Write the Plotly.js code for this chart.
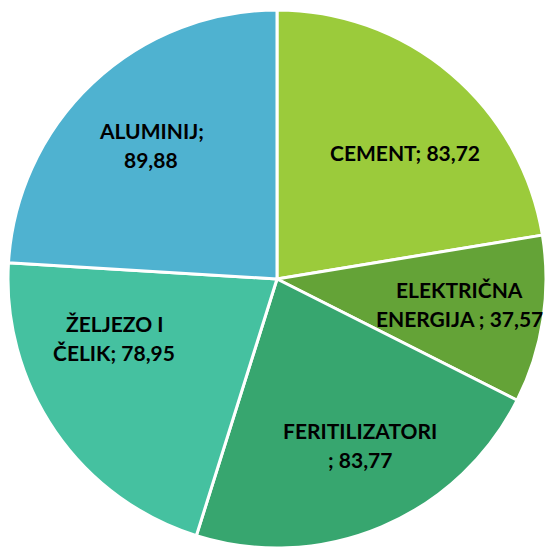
<!DOCTYPE html>
<html>
<head>
<meta charset="utf-8">
<script src="https://cdn.plot.ly/plotly-3.0.1.min.js"></script>
<style>
  html, body { margin: 0; padding: 0; background: #ffffff; }
  #chart { width: 548px; height: 548px; }
</style>
</head>
<body>
<div id="chart"></div>
<script>

/* ==========================================
   DATA
========================================== */

const sectors = ["CEMENT", "ELEKTRIČNA ENERGIJA", "FERITILIZATORI", "ŽELJEZO I ČELIK", "ALUMINIJ"];

const values = [83.72, 37.57, 83.77, 78.95, 89.88];

// label text as it is wrapped in the picture, one list per slice
const labelLines = [
    ["CEMENT; 83,72"],
    ["ELEKTRIČNA", "ENERGIJA ; 37,57"],
    ["FERITILIZATORI", "; 83,77"],
    ["ŽELJEZO I", "ČELIK; 78,95"],
    ["ALUMINIJ;", "89,88"]
];

const sliceColors = ["#9bcb3b", "#64a337", "#37a66f", "#45c1a0", "#4fb2d0"];


/* ==========================================
   LABEL PLACEMENT (pixel centre of first line)
========================================== */

const labelAnchor = [
    [405, 153],
    [459, 289],
    [360, 430],
    [114, 323],
    [151, 130]
];

const LINE_GAP = 29;

const SIZE = 548;


function buildLabels(){

    let notes = [];

    labelLines.forEach((lines, i)=>{

        lines.forEach((line, k)=>{

            const px = labelAnchor[i][0];

            const py = labelAnchor[i][1] + k * LINE_GAP;

            notes.push({

                text:line,

                xref:"paper",

                yref:"paper",

                x:px / SIZE,

                y:1 - py / SIZE,

                xanchor:"center",

                yanchor:"middle",

                showarrow:false,

                font:{

                    family:"Lato, 'Open Sans', sans-serif",

                    size:21,

                    color:"#000000",

                    weight:"bold"

                }

            });

        });

    });

    return notes;

}


/* ==========================================
   DRAW PIE
========================================== */

function drawPie(){

    Plotly.newPlot(

        "chart",

        [

            {

                type:"pie",

                labels:sectors,

                values:values,

                textinfo:"none",

                sort:false,

                direction:"clockwise",

                rotation:0,

                hoverinfo:"label+value",

                marker:{

                    colors:sliceColors,

                    line:{ color:"#ffffff", width:3 }

                },

                domain:{ x:[8/548, 546/548], y:[0, 538/548] }

            }

        ],

        {

            width:SIZE,

            height:SIZE,

            showlegend:false,

            margin:{ l:0, r:0, t:0, b:0 },

            paper_bgcolor:"#ffffff",

            plot_bgcolor:"#ffffff",

            annotations:buildLabels()

        },

        {

            displayModeBar:false,

            staticPlot:true

        }

    );

}

drawPie();

</script>
</body>
</html>
